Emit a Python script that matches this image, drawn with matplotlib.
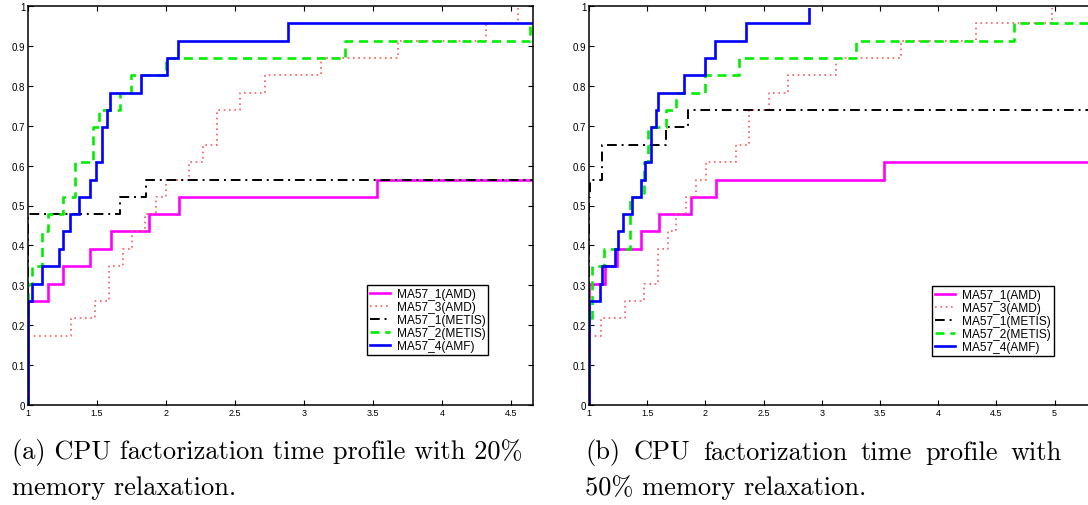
import matplotlib
matplotlib.use("Agg")
import matplotlib.pyplot as plt
from matplotlib import font_manager
from matplotlib.transforms import Bbox, TransformedBbox

# ---------------- data ----------------
labels = ["MA57_1(AMD)", "MA57_3(AMD)", "MA57_1(METIS)", "MA57_2(METIS)", "MA57_4(AMF)"]

# (a) 20% memory relaxation
a_amd1_x = [1.0, 1.0, 1.147, 1.256, 1.448, 1.598, 1.88, 2.096, 3.533]
a_amd1_y = [0.0, 0.261, 0.304, 0.348, 0.391, 0.435, 0.478, 0.522, 0.565]
a_amd3_x = [1.0, 1.0, 1.313, 1.482, 1.59, 1.687, 1.753, 1.85, 1.928, 2.0, 2.169, 2.265, 2.373, 2.54, 2.718, 3.124, 3.678, 4.32, 4.55]
a_amd3_y = [0.0, 0.174, 0.217, 0.261, 0.348, 0.391, 0.435, 0.478, 0.522, 0.565, 0.609, 0.652, 0.739, 0.783, 0.826, 0.870, 0.913, 0.957, 1.0]
a_met1_x = [1.0, 1.0, 1.665, 1.855]
a_met1_y = [0.0, 0.478, 0.522, 0.565]
a_met2_x = [1.0, 1.0, 1.03, 1.099, 1.147, 1.256, 1.34, 1.47, 1.518, 1.667, 1.747, 2.0, 3.30, 4.635]
a_met2_y = [0.0, 0.304, 0.348, 0.435, 0.478, 0.522, 0.609, 0.696, 0.739, 0.783, 0.826, 0.870, 0.913, 0.957]
a_amf_x = [1.0, 1.0, 1.027, 1.099, 1.226, 1.256, 1.304, 1.371, 1.448, 1.49, 1.535, 1.576, 1.595, 1.817, 2.005, 2.084, 2.887]
a_amf_y = [0.0, 0.261, 0.304, 0.348, 0.391, 0.435, 0.478, 0.522, 0.565, 0.609, 0.696, 0.739, 0.783, 0.826, 0.870, 0.913, 0.957]

# (b) 50% memory relaxation
b_amd1_x = [1.0, 1.0, 1.135, 1.244, 1.444, 1.599, 1.88, 2.095, 3.534]
b_amd1_y = [0.0, 0.304, 0.348, 0.391, 0.435, 0.478, 0.522, 0.565, 0.609]
b_amd3_x = [1.0, 1.0, 1.106, 1.307, 1.473, 1.593, 1.679, 1.745, 1.837, 1.923, 2.009, 2.26, 2.375, 2.544, 2.711, 3.12, 3.678, 4.328, 4.978]
b_amd3_y = [0.0, 0.174, 0.217, 0.261, 0.304, 0.391, 0.435, 0.478, 0.522, 0.565, 0.609, 0.652, 0.739, 0.783, 0.826, 0.870, 0.913, 0.957, 1.0]
b_met1_x = [1.0, 1.0, 1.01, 1.112, 1.665, 1.848]
b_met1_y = [0.0, 0.522, 0.565, 0.652, 0.696, 0.739]
b_met2_x = [1.0, 1.0, 1.03, 1.13, 1.35, 1.47, 1.51, 1.665, 1.75, 2.0, 2.29, 3.297, 4.649]
b_met2_y = [0.0, 0.217, 0.348, 0.391, 0.522, 0.609, 0.696, 0.739, 0.783, 0.826, 0.870, 0.913, 0.957]
b_amf_x = [1.0, 1.0, 1.092, 1.112, 1.22, 1.252, 1.295, 1.37, 1.444, 1.481, 1.536, 1.579, 1.593, 1.814, 2.0, 2.08, 2.347, 2.891]
b_amf_y = [0.0, 0.261, 0.304, 0.348, 0.391, 0.435, 0.478, 0.522, 0.565, 0.609, 0.696, 0.739, 0.783, 0.826, 0.870, 0.913, 0.957, 1.0]

a_xticks = [1, 1.5, 2, 2.5, 3, 3.5, 4, 4.5]
b_xticks = [1, 1.5, 2, 2.5, 3, 3.5, 4, 4.5, 5]
yticks = [0, 0.1, 0.2, 0.3, 0.4, 0.5, 0.6, 0.7, 0.8, 0.9, 1]
ytick_labels = ["0", "0.1", "0.2", "0.3", "0.4", "0.5", "0.6", "0.7", "0.8", "0.9", "1"]

caption_a = ["(a) CPU factorization time profile with 20%", "memory relaxation."]
caption_b_words = ["(b)", "CPU", "factorization", "time", "profile", "with"]
caption_b_line2 = "50% memory relaxation."

# ---------------- style ----------------
installed = {f.name for f in font_manager.fontManager.ttflist}
narrow = ["Liberation Sans Narrow", "Liberation Sans"] if "Liberation Sans Narrow" in installed else ["Liberation Sans"]
sans = ["Liberation Sans", "DejaVu Sans"]
serif = ["cmr10", "DejaVu Serif"]

styles = [
    dict(color="#ff00ff", lw=1.9, ls="-"),
    dict(color="#ff5a5a", lw=1.2, ls=(0, (1, 2.2))),
    dict(color="black", lw=1.4, ls=(0, (5, 2.5, 1, 2.5))),
    dict(color="#00ee00", lw=1.9, ls=(0, (3.4, 2.2))),
    dict(color="#0000ff", lw=1.9, ls="-"),
]

W, H = 1088, 506
fig = plt.figure(figsize=(W / 100, H / 100), dpi=100)


def px_axes(x0, x1, y0, y1):
    return fig.add_axes([x0 / W, 1 - y1 / H, (x1 - x0) / W, (y1 - y0) / H])


def draw_panel(ax, series, xmax, xticks, leg_anchor):
    ax_h_px = 399.0
    clip = TransformedBbox(Bbox([[0, 0], [1, 1 - 1.5 / ax_h_px]]), ax.transAxes)
    for (xs, ys), st, lab in zip(series, styles, labels):
        xx = list(xs) + [xmax]
        yy = list(ys) + [ys[-1]]
        ln, = ax.plot(xx, yy, drawstyle="steps-post", label=lab, color=st["color"],
                      lw=st["lw"], linestyle=st["ls"], solid_joinstyle="miter")
        ln.set_clip_box(clip)
    ax.set_xlim(1, xmax)
    ax.set_ylim(0, 1)
    ax.set_xticks(xticks)
    ax.set_xticklabels([("%g" % t) for t in xticks], fontfamily=narrow, fontsize=6.5)
    ax.set_yticks(yticks)
    ax.set_yticklabels(ytick_labels, fontfamily=sans, fontsize=7)
    ax.tick_params(direction="in", length=3.5, width=0.8, top=True, right=True, pad=2.5)
    ax.tick_params(axis="y", pad=2)
    for s in ax.spines.values():
        s.set_linewidth(1.1)
    leg = ax.legend(loc="upper left", bbox_to_anchor=leg_anchor, fancybox=False,
                    edgecolor="black", framealpha=1, prop={"family": sans, "size": 8.6},
                    handlelength=1.7, handletextpad=0.55, borderpad=0.25,
                    labelspacing=0.08, borderaxespad=0)
    leg.get_frame().set_linewidth(1.0)


axA = px_axes(28, 533, 7, 406)
draw_panel(axA, [(a_amd1_x, a_amd1_y), (a_amd3_x, a_amd3_y), (a_met1_x, a_met1_y),
                 (a_met2_x, a_met2_y), (a_amf_x, a_amf_y)], 4.66, a_xticks, (0.671, 0.30))

axB = px_axes(589, 589 + 4.5 * 116.4, 7, 406)
draw_panel(axB, [(b_amd1_x, b_amd1_y), (b_amd3_x, b_amd3_y), (b_met1_x, b_met1_y),
                 (b_met2_x, b_met2_y), (b_amf_x, b_amf_y)], 5.5, b_xticks, (0.655, 0.297))

# captions
cap_size = 19
fig.text(12 / W, 1 - 453 / H, caption_a[0], fontfamily=serif, fontsize=cap_size, va="center", ha="left")
fig.text(12 / W, 1 - 488 / H, caption_a[1], fontfamily=serif, fontsize=cap_size, va="center", ha="left")

# justified first line of caption (b)
renderer = fig.canvas.get_renderer()
b_left, b_right = 585.0, 1062.0
word_texts = [fig.text(0, 1 - 453 / H, w, fontfamily=serif, fontsize=cap_size, va="center", ha="left")
              for w in caption_b_words]
widths = [t.get_window_extent(renderer).width for t in word_texts]
gap = (b_right - b_left - sum(widths)) / (len(widths) - 1)
xpos = b_left
for t, wdt in zip(word_texts, widths):
    t.set_x(xpos / W)
    xpos += wdt + gap
fig.text(585 / W, 1 - 488 / H, caption_b_line2, fontfamily=serif, fontsize=cap_size, va="center", ha="left")

fig.savefig("out.png", dpi=100)
